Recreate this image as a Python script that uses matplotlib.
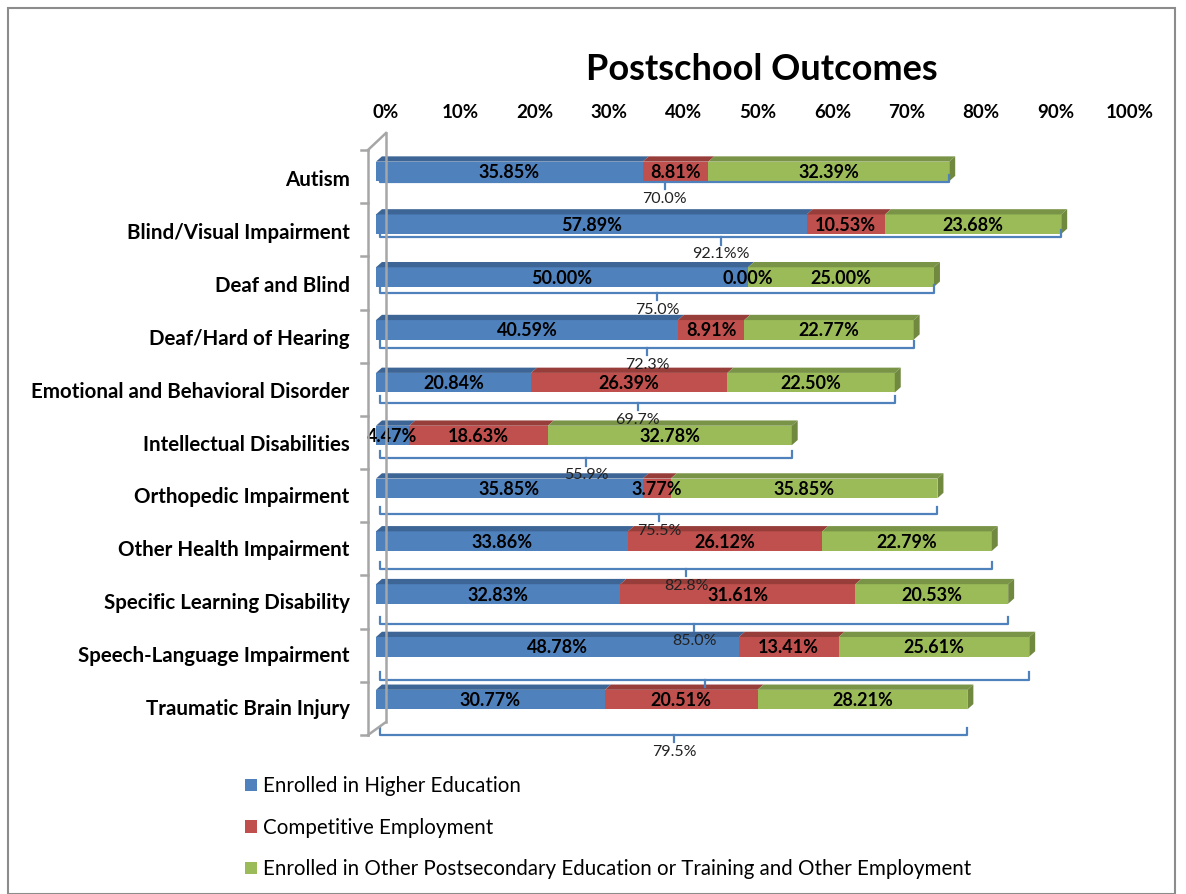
import matplotlib
matplotlib.use('Agg')
import matplotlib.pyplot as plt
from matplotlib.patches import Polygon, Rectangle, Patch
from matplotlib.lines import Line2D
from matplotlib.transforms import ScaledTranslation

plt.rcParams.update({'font.family': ['Lato', 'DejaVu Sans']})

# data
categories = ['Autism', 'Blind/Visual Impairment', 'Deaf and Blind', 'Deaf/Hard of Hearing',
              'Emotional and Behavioral Disorder', 'Intellectual Disabilities', 'Orthopedic Impairment',
              'Other Health Impairment', 'Specific Learning Disability', 'Speech-Language Impairment',
              'Traumatic Brain Injury']
higher_ed = [35.85, 57.89, 50.00, 40.59, 20.84, 4.47, 35.85, 33.86, 32.83, 48.78, 30.77]
competitive = [8.81, 10.53, 0.00, 8.91, 26.39, 18.63, 3.77, 26.12, 31.61, 13.41, 20.51]
other_post = [32.39, 23.68, 25.00, 22.77, 22.50, 32.78, 35.85, 22.79, 20.53, 25.61, 28.21]
bracket_labels = ['70.0%', '92.1%%', '75.0%', '72.3%', '69.7%', '55.9%', '75.5%', '82.8%', '85.0%', '', '79.5%']
series_names = ['Enrolled in Higher Education', 'Competitive Employment',
                'Enrolled in Other Postsecondary Education or Training and Other Employment']
xticks = [0, 10, 20, 30, 40, 50, 60, 70, 80, 90, 100]

front = ['#4F81BD', '#C0504D', '#9BBB59']
topc = ['#3D6595', '#973E3B', '#7A9447']
sidec = '#71893F'
bracket_c = '#4F81BD'

W, H = 1186, 894
fig = plt.figure(figsize=(W / 100, H / 100), dpi=100)
fig.patches.append(Rectangle((8 / W, 0), 1167 / W, 1 - 8 / H, transform=fig.transFigure,
                             fill=False, edgecolor='#8C8C8C', lw=1.5))

ax = fig.add_axes([376 / W, 1 - 726 / H, 744 / W, 581 / H])
ax.set_xlim(0, 100)
ax.set_ylim(len(categories) - 0.5, -0.5)
for s in ax.spines.values():
    s.set_visible(False)

bh = 0.37
dx, dy = 0.8, 0.1
series = [higher_ed, competitive, other_post]
for i in range(len(categories)):
    left = 0
    for k, vals in enumerate(series):
        v = vals[i]
        ax.barh(i, v, left=left, height=bh, color=front[k], zorder=2)
        top = i - bh / 2
        ax.add_patch(Polygon([(left, top), (left + dx, top - dy), (left + v + dx, top - dy), (left + v, top)],
                             closed=True, facecolor=topc[k], edgecolor='none', zorder=2))
        if k == 2:
            r = left + v
            ax.add_patch(Polygon([(r, top), (r + dx, top - dy), (r + dx, top + bh - dy), (r, top + bh)],
                                 closed=True, facecolor=sidec, edgecolor='none', zorder=2))
        ax.text(left + v / 2, i + 0.02, f'{v:.2f}%', ha='center', va='center',
                fontsize=13, fontweight='bold', color='black', zorder=4)
        left += v

ax.xaxis.tick_top()
ax.set_xticks(xticks)
ax.set_xticklabels([f'{t}%' for t in xticks], fontsize=13.5, fontweight='bold')
ax.tick_params(axis='x', length=0, pad=17)
for lab in ax.get_xticklabels():
    lab.set_transform(lab.get_transform() + ScaledTranslation(10 / 100, 0, fig.dpi_scale_trans))
ax.set_yticks(range(len(categories)))
ax.set_yticklabels(categories, fontsize=14.8, fontweight='bold')
ax.tick_params(axis='y', length=0, pad=19)
for lab in ax.get_yticklabels():
    lab.set_transform(lab.get_transform() + ScaledTranslation(0, -7 / 100, fig.dpi_scale_trans))

# 3D wall lines
wall = dict(color='#A6A6A6', lw=1.8, transform=fig.transFigure, clip_on=False)
def px(x, y):
    return x / W, 1 - y / H
for (x0, y0), (x1, y1) in [((368, 150), (368, 735)), ((386, 133), (386, 722)),
                           ((368, 150), (386, 133)), ((368, 735), (386, 722))]:
    a, b = px(x0, y0), px(x1, y1)
    fig.add_artist(Line2D([a[0], b[0]], [a[1], b[1]], **wall))
for i in range(len(categories) + 1):
    yp = 150 + i * (585 / len(categories))
    a, b = px(361, yp), px(368, yp)
    fig.add_artist(Line2D([a[0], b[0]], [a[1], b[1]], **wall))

# brackets (secondary scale)
ax2 = fig.add_axes(ax.get_position(), sharex=ax)
ax2.set_ylim(9.84, -0.67)
ax2.axis('off')
ax2.patch.set_visible(False)
totals = [h + c + o for h, c, o in zip(higher_ed, competitive, other_post)]
ends = 0.13
for i, tot in enumerate(totals):
    x0, x1 = 0.6, tot
    xm = (x0 + x1) / 2
    ax2.plot([x0, x0, x1, x1], [i - ends, i, i, i - ends], color=bracket_c, lw=1.6, zorder=5, clip_on=False)
    ax2.plot([xm, xm], [i, i + ends], color=bracket_c, lw=1.6, zorder=5, clip_on=False)
    if bracket_labels[i]:
        ax2.text(xm, i + 0.18, bracket_labels[i], ha='center', va='top', fontsize=11.5,
                 color='#222222', zorder=5)

fig.text(762 / W, 1 - 70 / H, 'Postschool Outcomes', ha='center', va='center',
         fontsize=26, fontweight='bold')

handles = [Patch(facecolor=c, edgecolor='none') for c in front]
fig.legend(handles, series_names, loc='upper left', bbox_to_anchor=(235 / W, 1 - 766 / H),
           frameon=False, fontsize=14.8, handlelength=0.55, handleheight=0.55,
           handletextpad=0.3, labelspacing=1.05, borderpad=0)

fig.savefig('out.png', dpi=100)
